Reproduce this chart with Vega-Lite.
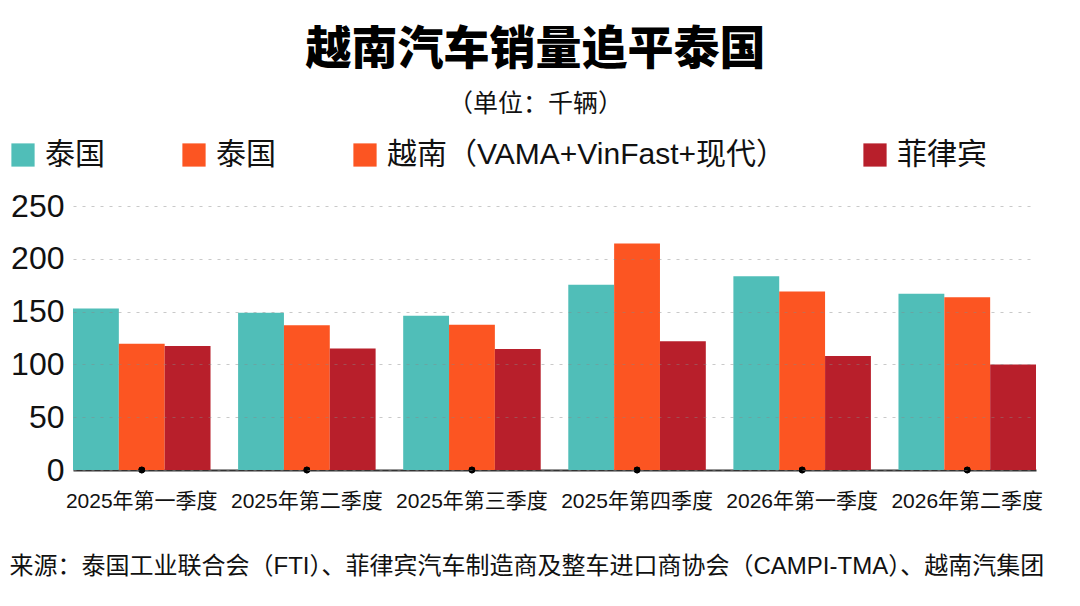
{
  "$schema": "https://vega.github.io/schema/vega-lite/v6.json",
  "width": 963,
  "height": 264,
  "autosize": {"type": "none"},
  "padding": {"left": 73, "top": 206, "right": 44, "bottom": 136},
  "background": "white",
  "config": {"view": {"stroke": null}},
  "title": {
    "text": "越南汽车销量追平泰国",
    "subtitle": "（单位：千辆）",
    "anchor": "middle",
    "dx": -19,
    "offset": 22,
    "font": "Noto Sans CJK SC",
    "fontSize": 46,
    "fontWeight": 900,
    "color": "#000000",
    "subtitleFont": "Liberation Sans, Noto Sans CJK SC",
    "subtitleFontSize": 25,
    "subtitleColor": "#111111",
    "subtitlePadding": 18
  },
  "data": {
    "values": [
      {"quarter": "2025年第一季度", "series": "泰国", "value": 153},
      {"quarter": "2025年第一季度", "series": "越南（VAMA+VinFast+现代）", "value": 119.5},
      {"quarter": "2025年第一季度", "series": "菲律宾", "value": 117.5},
      {"quarter": "2025年第二季度", "series": "泰国", "value": 149},
      {"quarter": "2025年第二季度", "series": "越南（VAMA+VinFast+现代）", "value": 137},
      {"quarter": "2025年第二季度", "series": "菲律宾", "value": 115},
      {"quarter": "2025年第三季度", "series": "泰国", "value": 146},
      {"quarter": "2025年第三季度", "series": "越南（VAMA+VinFast+现代）", "value": 137.5},
      {"quarter": "2025年第三季度", "series": "菲律宾", "value": 114.5},
      {"quarter": "2025年第四季度", "series": "泰国", "value": 175.5},
      {"quarter": "2025年第四季度", "series": "越南（VAMA+VinFast+现代）", "value": 214.5},
      {"quarter": "2025年第四季度", "series": "菲律宾", "value": 122},
      {"quarter": "2026年第一季度", "series": "泰国", "value": 183.5},
      {"quarter": "2026年第一季度", "series": "越南（VAMA+VinFast+现代）", "value": 169},
      {"quarter": "2026年第一季度", "series": "菲律宾", "value": 108},
      {"quarter": "2026年第二季度", "series": "泰国", "value": 167},
      {"quarter": "2026年第二季度", "series": "越南（VAMA+VinFast+现代）", "value": 163.5},
      {"quarter": "2026年第二季度", "series": "菲律宾", "value": 100}
    ]
  },
  "encoding": {
    "x": {
      "field": "quarter",
      "type": "nominal",
      "sort": null,
      "scale": {"paddingInner": 0.167, "paddingOuter": 0},
      "axis": {
        "title": "来源：泰国工业联合会（FTI）、菲律宾汽车制造商及整车进口商协会（CAMPI-TMA）、越南汽集团",
        "titleFont": "Liberation Sans, Noto Sans CJK SC",
        "titleFontSize": 24,
        "titleFontWeight": "normal",
        "titleColor": "#111111",
        "titleAnchor": "start",
        "titleAlign": "left",
        "titleBaseline": "middle",
        "titleX": -64,
        "titleY": 96,
        "labelAngle": 0,
        "labelFont": "Liberation Sans, Noto Sans CJK SC",
        "labelFontSize": 21,
        "labelColor": "#111111",
        "labelPadding": 20,
        "ticks": false,
        "domainColor": "#333333",
        "domainWidth": 2,
        "grid": false
      }
    }
  },
  "layer": [
    {
      "mark": {"type": "bar"},
      "encoding": {
        "xOffset": {
          "field": "series",
          "type": "nominal",
          "sort": ["泰国", "越南（VAMA+VinFast+现代）", "菲律宾"],
          "scale": {"paddingInner": 0, "paddingOuter": 0}
        },
        "y": {
          "field": "value",
          "type": "quantitative",
          "scale": {"domain": [0, 250], "nice": false},
          "axis": {
            "title": null,
            "values": [0, 50, 100, 150, 200, 250],
            "labelFont": "Liberation Sans, Noto Sans CJK SC",
            "labelFontSize": 32,
            "labelColor": "#111111",
            "labelPadding": 9,
            "ticks": false,
            "domain": false,
            "grid": true,
            "gridColor": "#888888",
            "gridOpacity": 0.45,
            "gridDash": [3, 6],
            "gridWidth": 1,
            "zindex": 1
          }
        },
        "color": {
          "field": "series",
          "type": "nominal",
          "scale": {
            "domain": ["泰国", "泰国 ", "越南（VAMA+VinFast+现代）", "菲律宾"],
            "range": ["#50BEB8", "#FC5522", "#FC5522", "#B81F2B"]
          },
          "legend": {
            "title": null,
            "orient": "none",
            "direction": "horizontal",
            "legendX": -65,
            "legendY": -66,
            "symbolType": "square",
            "symbolSize": 540,
            "symbolStrokeWidth": 0,
            "symbolOpacity": 1,
            "labelFont": "Liberation Sans, Noto Sans CJK SC",
            "labelFontSize": 30,
            "labelColor": "#111111",
            "labelOffset": 7,
            "columnPadding": 74,
            "labelLimit": 600
          }
        }
      }
    },
    {
      "mark": {"type": "point", "filled": true, "color": "#000000", "opacity": 1, "size": 40},
      "encoding": {
        "y": {"datum": 0}
      }
    }
  ]
}
